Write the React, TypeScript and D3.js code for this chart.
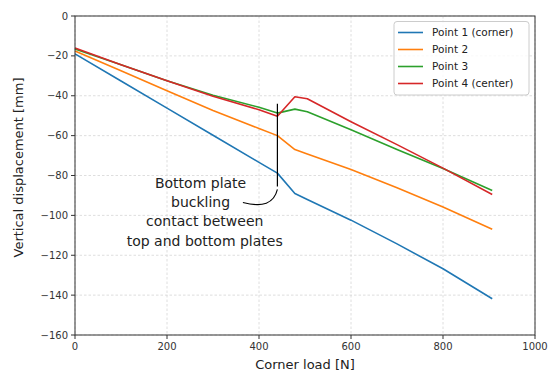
import React from 'react';
import * as d3 from 'd3';

// Corner load [N] for each sample
const loads = [0, 100, 200, 300, 400, 440, 478, 505, 600, 700, 800, 907];

// Vertical displacement [mm] per measuring point
const point1 = [-19, -32.6, -46.2, -59.8, -73.4, -78.8, -89, -92, -102.4, -114.3, -126.8, -141.8];
const point2 = [-17.5, -27.5, -37.5, -47.4, -56.4, -60, -67, -69.2, -77, -86.2, -95.8, -107];
const point3 = [-16.5, -24.5, -32.5, -39.7, -45.8, -48.7, -46.7, -48, -57, -67, -76.5, -87.5];
const point4 = [-16, -24.5, -32.5, -40.3, -47, -50.3, -40.5, -41.5, -53, -64.5, -76.3, -89.5];

const seriesNames = ['Point 1 (corner)', 'Point 2', 'Point 3', 'Point 4 (center)'];
const seriesColors = ['#1f77b4', '#ff7f0e', '#2ca02c', '#d62728'];

const xTicks = [0, 200, 400, 600, 800, 1000];
const yTicks = [0, -20, -40, -60, -80, -100, -120, -140, -160];

// annotation: vertical marker at the buckling load
const markerLoad = 440;
const markerRange = [-44, -85.5];

const width = 551;
const height = 376;
const margin = { top: 16, right: 16, bottom: 41, left: 75 };

const App: React.FC = () => {
  const innerW = width - margin.left - margin.right;
  const innerH = height - margin.top - margin.bottom;

  const x = d3.scaleLinear().domain([0, 1000]).range([0, innerW]);
  const y = d3.scaleLinear().domain([-160, 0]).range([innerH, 0]);

  const series = [point1, point2, point3, point4];
  const line = d3.line<number>()
    .x((_, i) => x(loads[i]))
    .y(d => y(d));

  const font = 'DejaVu Sans, sans-serif';
  const mx = x(markerLoad);
  const myEnd = y(markerRange[1]);

  return (
    <svg width={width} height={height} style={{ position: 'absolute', left: 0, top: 0 }}>
      <rect width={width} height={height} fill="#fff" />
      <g transform={`translate(${margin.left},${margin.top})`}>
        {/* grid */}
        {xTicks.map(t => (
          <line key={'gx' + t} x1={x(t)} x2={x(t)} y1={0} y2={innerH}
            stroke="#d6d6d6" strokeWidth={0.8} strokeDasharray="2.5,2" />
        ))}
        {yTicks.map(t => (
          <line key={'gy' + t} x1={0} x2={innerW} y1={y(t)} y2={y(t)}
            stroke="#d6d6d6" strokeWidth={0.8} strokeDasharray="2.5,2" />
        ))}

        {/* data */}
        {series.map((s, i) => (
          <path key={i} d={line(s) || ''} fill="none" stroke={seriesColors[i]}
            strokeWidth={1.6} strokeLinejoin="round" />
        ))}

        {/* annotation */}
        <line x1={mx} x2={mx} y1={y(markerRange[0])} y2={myEnd} stroke="#000" strokeWidth={1.2} />
        <path d={`M ${mx - 34.5} ${myEnd + 16} Q ${mx - 5} ${myEnd + 24} ${mx} ${myEnd + 3}`}
          fill="none" stroke="#000" strokeWidth={1.1} />
        <g fontFamily={font} fontSize={14} fill="#222" textAnchor="middle">
          <text x={x(273)} y={y(-86.2)}>Bottom plate</text>
          <text x={x(273)} y={y(-95.8)}>buckling</text>
          <text x={x(282)} y={y(-105.3)}>contact between</text>
          <text x={x(282)} y={y(-115.3)}>top and bottom plates</text>
        </g>

        {/* axes frame */}
        <rect x={0} y={0} width={innerW} height={innerH} fill="none" stroke="#333" strokeWidth={1} />

        {/* x ticks */}
        {xTicks.map(t => (
          <g key={'tx' + t} transform={`translate(${x(t)},${innerH})`}>
            <line y2={4} stroke="#333" />
            <text y={15} textAnchor="middle" fontFamily={font} fontSize={10} fill="#333">{t}</text>
          </g>
        ))}
        {/* y ticks */}
        {yTicks.map(t => (
          <g key={'ty' + t} transform={`translate(0,${y(t)})`}>
            <line x2={-4} stroke="#333" />
            <text x={-7} dy="0.35em" textAnchor="end" fontFamily={font} fontSize={10} fill="#333">
              {t === 0 ? '0' : '\u2212' + Math.abs(t)}
            </text>
          </g>
        ))}

        <text x={innerW / 2} y={innerH + 34} textAnchor="middle" fontFamily={font} fontSize={13} fill="#222">
          Corner load [N]
        </text>
        <text transform={`translate(${-52},${innerH / 2 - 8}) rotate(-90)`} textAnchor="middle"
          fontFamily={font} fontSize={13} fill="#222">
          Vertical displacement [mm]
        </text>

        {/* legend */}
        <g transform={`translate(${394 - margin.left},${21.5 - margin.top})`}>
          <rect width={135} height={73.5} rx={3} fill="#fff" fillOpacity={0.8} stroke="#ccc" />
          {seriesNames.map((n, i) => (
            <g key={n} transform={`translate(0,${11 + i * 17})`}>
              <line x1={4} x2={29} stroke={seriesColors[i]} strokeWidth={1.6} />
              <text x={38} dy="0.35em" fontFamily={font} fontSize={10.5} fill="#222">{n}</text>
            </g>
          ))}
        </g>
      </g>
    </svg>
  );
};

export default App;
